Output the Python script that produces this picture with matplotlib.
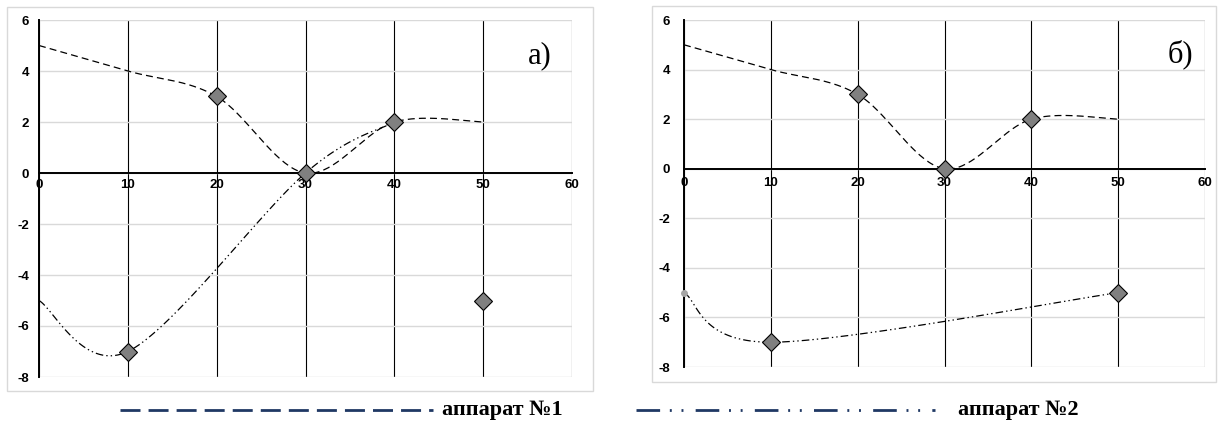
import numpy as np
import matplotlib
matplotlib.use('Agg')
import matplotlib.pyplot as plt
from matplotlib.lines import Line2D
from matplotlib.patches import Rectangle

plt.rcParams['lines.scale_dashes'] = False
plt.rcParams['axes.unicode_minus'] = False

# panel a)
a1_x = [0, 10, 20, 30, 40, 50]
a1_y = [5, 4, 3, 0, 2, 2]
a2_x = [0, 10, 30, 40]
a2_y = [-5, -7, 0, 2]
a_mark_x = [10, 20, 30, 40, 50]
a_mark_y = [-7, 3, 0, 2, -5]

# panel б)
b1_x = [0, 10, 20, 30, 40, 50]
b1_y = [5, 4, 3, 0, 2, 2]
b2_x = [0, 10, 50]
b2_y = [-5, -7, -5]
b_mark_x = [10, 20, 30, 40, 50]
b_mark_y = [-7, 3, 0, 2, -5]

x_ticks = [0, 10, 20, 30, 40, 50, 60]
y_ticks = [-8, -6, -4, -2, 0, 2, 4, 6]
legend_labels = ['аппарат №1', 'аппарат №2']

DASH1 = (0, (5, 3))
DASH2 = (0, (5.5, 2.2, 1.0, 2.2, 1.0, 2.2))


def smooth(xs, ys, n=40):
	# Catmull-Rom curve, like the smoothed lines of a spreadsheet chart
	p = np.column_stack([xs, ys]).astype(float)
	ext = np.vstack([p[0], p, p[-1]])
	out = []
	t = np.linspace(0, 1, n)
	h00 = 2 * t**3 - 3 * t**2 + 1
	h10 = t**3 - 2 * t**2 + t
	h01 = -2 * t**3 + 3 * t**2
	h11 = t**3 - t**2
	for i in range(len(p) - 1):
		p0, p1 = ext[i + 1], ext[i + 2]
		m0 = (ext[i + 2] - ext[i]) / 2
		m1 = (ext[i + 3] - ext[i + 1]) / 2
		seg = (h00[:, None] * p0 + h10[:, None] * m0
			   + h01[:, None] * p1 + h11[:, None] * m1)
		out.append(seg)
	c = np.vstack(out)
	return c[:, 0], c[:, 1]


def draw_panel(ax, s1, s2, marks, label, lx, ypad, xpad):
	ax.set_xlim(0, 60)
	ax.set_ylim(-8, 6)
	ax.set_xticks(x_ticks)
	ax.set_yticks(y_ticks)
	ax.xaxis.grid(True, color='black', lw=0.8)
	ax.yaxis.grid(True, color='#d9d9d9', lw=1.0)
	ax.set_axisbelow(True)
	for s in ['top', 'right']:
		ax.spines[s].set_visible(False)
	ax.spines['bottom'].set_position(('data', 0))
	ax.spines['bottom'].set_linewidth(1.4)
	ax.spines['left'].set_linewidth(1.4)
	ax.tick_params(length=0)
	ax.tick_params(axis='y', pad=ypad)
	ax.tick_params(axis='x', pad=xpad)
	for t in ax.get_xticklabels() + ax.get_yticklabels():
		t.set_fontfamily('Liberation Sans')
		t.set_fontweight('bold')
		t.set_fontsize(9.5)
	sx, sy = smooth(*s1)
	ax.plot(sx, sy, color='black', lw=0.9, linestyle=DASH1, zorder=3)
	sx, sy = smooth(*s2)
	ax.plot(sx, sy, color='black', lw=0.9, linestyle=DASH2, zorder=3)
	ax.plot(marks[0], marks[1], linestyle='none', marker='D', ms=9,
			mfc='#808080', mec='black', mew=0.8, zorder=4, clip_on=False)
	ax.text(lx, 0.9, label, transform=ax.transAxes, ha='center', va='center',
			fontfamily='Liberation Serif', fontsize=22)


fig = plt.figure(figsize=(12.19, 4.23), dpi=100)
W, H = 1219, 423


def px_box(x0, y0, x1, y1):
	return [x0 / W, 1 - y1 / H, (x1 - x0) / W, (y1 - y0) / H]


fig.patches.append(Rectangle((7 / W, 1 - 391 / H), 586 / W, 384 / H,
							 transform=fig.transFigure, fill=False, ec='#d9d9d9', lw=1))
fig.patches.append(Rectangle((652 / W, 1 - 382 / H), 564 / W, 376 / H,
							 transform=fig.transFigure, fill=False, ec='#d9d9d9', lw=1))

ax1 = fig.add_axes(px_box(39, 20, 572, 377))
draw_panel(ax1, (a1_x, a1_y), (a2_x, a2_y), (a_mark_x, a_mark_y), 'а)', 0.94, 7, 4)

ax2 = fig.add_axes(px_box(684, 20, 1205, 367))
draw_panel(ax2, (b1_x, b1_y), (b2_x, b2_y), (b_mark_x, b_mark_y), 'б)', 0.952, 10, 6)
ax2.plot([b2_x[0]], [b2_y[0]], 'o', ms=4, color='#a6a6a6', zorder=5, clip_on=False)

# legend drawn below the panels
ly = 1 - 410 / H
fig.add_artist(Line2D([120 / W, 433 / W], [ly, ly], color='#1f3864', lw=2,
					  linestyle=(0, (14.4, 5.8)), transform=fig.transFigure))
fig.add_artist(Line2D([636 / W, 935 / W], [ly, ly], color='#1f3864', lw=2,
					  linestyle=(0, (17, 7, 1.4, 7, 1.4, 8.8)), transform=fig.transFigure))
fig.text(442 / W, ly, legend_labels[0], ha='left', va='center',
		 fontfamily='Liberation Serif', fontweight='bold', fontsize=16)
fig.text(958 / W, ly, legend_labels[1], ha='left', va='center',
		 fontfamily='Liberation Serif', fontweight='bold', fontsize=16)

fig.savefig('out.png', dpi=100)
